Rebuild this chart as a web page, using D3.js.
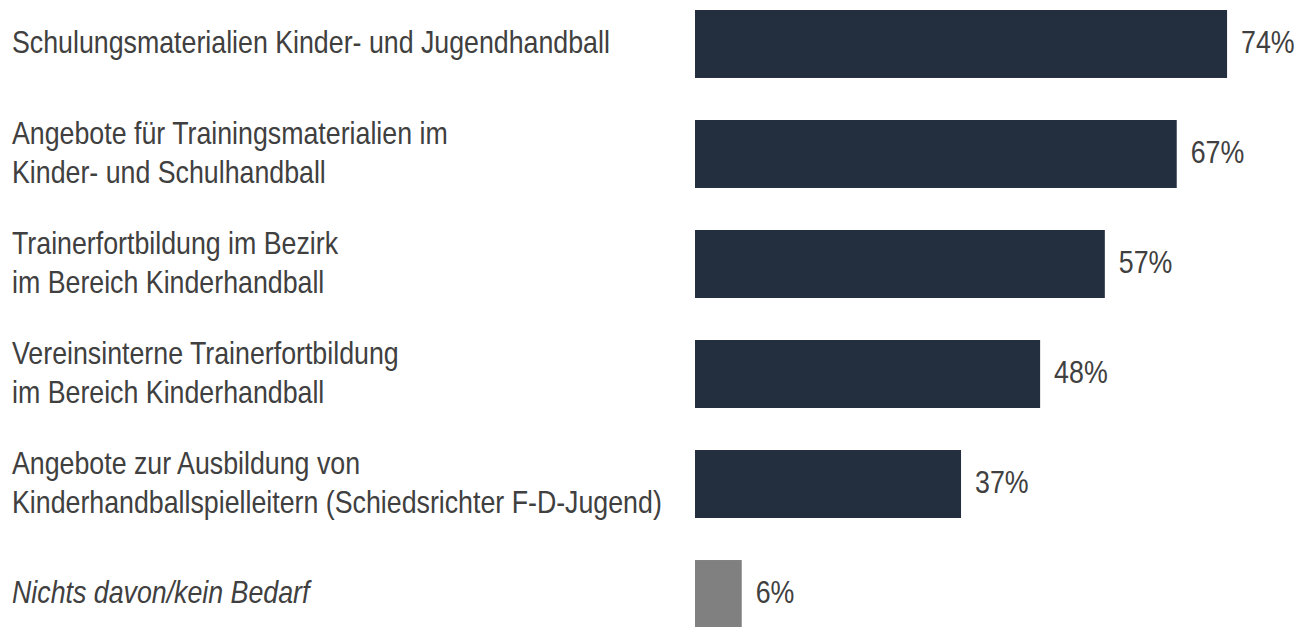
<!DOCTYPE html>
<html>
<head>
<meta charset="utf-8">
<script src="https://cdn.jsdelivr.net/npm/d3@7"></script>
<style>
  body { margin: 0; background: #fff; }
  text { font-family: "Liberation Sans", Arial, sans-serif; fill: #404040; }
</style>
</head>
<body>
<script>
// data
var categories = [
  ["Schulungsmaterialien Kinder- und Jugendhandball"],
  ["Angebote für Trainingsmaterialien im", "Kinder- und Schulhandball"],
  ["Trainerfortbildung im Bezirk", "im Bereich Kinderhandball"],
  ["Vereinsinterne Trainerfortbildung", "im Bereich Kinderhandball"],
  ["Angebote zur Ausbildung von", "Kinderhandballspielleitern (Schiedsrichter F-D-Jugend)"],
  ["Nichts davon/kein Bedarf"]
];
var values = [74, 67, 57, 48, 37, 6.5];
var valueLabels = ["74%", "67%", "57%", "48%", "37%", "6%"];

var width = 1297, height = 627;
var fontSize = 31.5;

var svg = d3.select("body").append("svg")
    .attr("width", width)
    .attr("height", height);

var idx = d3.range(values.length);

var x = d3.scaleLinear()
    .domain([0, 100])
    .range([695, 695 + 719]);

var y = d3.scaleBand()
    .domain(idx)
    .range([10, 628])
    .paddingInner(0.382)
    .paddingOuter(0);

// the font in the picture is a narrow one: squeeze text horizontally
var probe = svg.append("text").style("font-size", fontSize + "px").text(categories[0][0]);
var sx = 598 / probe.node().getComputedTextLength();
probe.remove();

var rows = svg.selectAll("g.row")
    .data(idx)
  .enter().append("g")
    .attr("class", "row");

rows.append("rect")
    .attr("x", x(0))
    .attr("y", function(i) { return y(i); })
    .attr("width", function(i) { return x(values[i]) - x(0); })
    .attr("height", y.bandwidth())
    .attr("fill", function(i) { return i == values.length - 1 ? "#808080" : "#232f3e"; });

rows.append("text")
    .attr("transform", function(i) {
      return "translate(" + (x(values[i]) + 14) + "," + (y(i) + y.bandwidth() / 2) + ") scale(" + sx + ",1)";
    })
    .attr("dy", "0.295em")
    .style("font-size", fontSize + "px")
    .text(function(i) { return valueLabels[i]; });

// category labels, 1 or 2 lines centered on the bar
var lineH = 38.5;
rows.append("text")
    .attr("transform", function(i) {
      return "translate(12," + (y(i) + y.bandwidth() / 2) + ") scale(" + sx + ",1)";
    })
    .style("font-size", fontSize + "px")
    .style("font-style", function(i) { return i == values.length - 1 ? "italic" : "normal"; })
    .each(function(i) {
      var lines = categories[i];
      var t = d3.select(this);
      lines.forEach(function(l, k) {
        t.append("tspan")
          .attr("x", 0)
          .attr("dy", k == 0 ? (0.295 * fontSize - (lines.length - 1) * lineH / 2) + "px" : lineH + "px")
          .text(l);
      });
    });
</script>
</body>
</html>
